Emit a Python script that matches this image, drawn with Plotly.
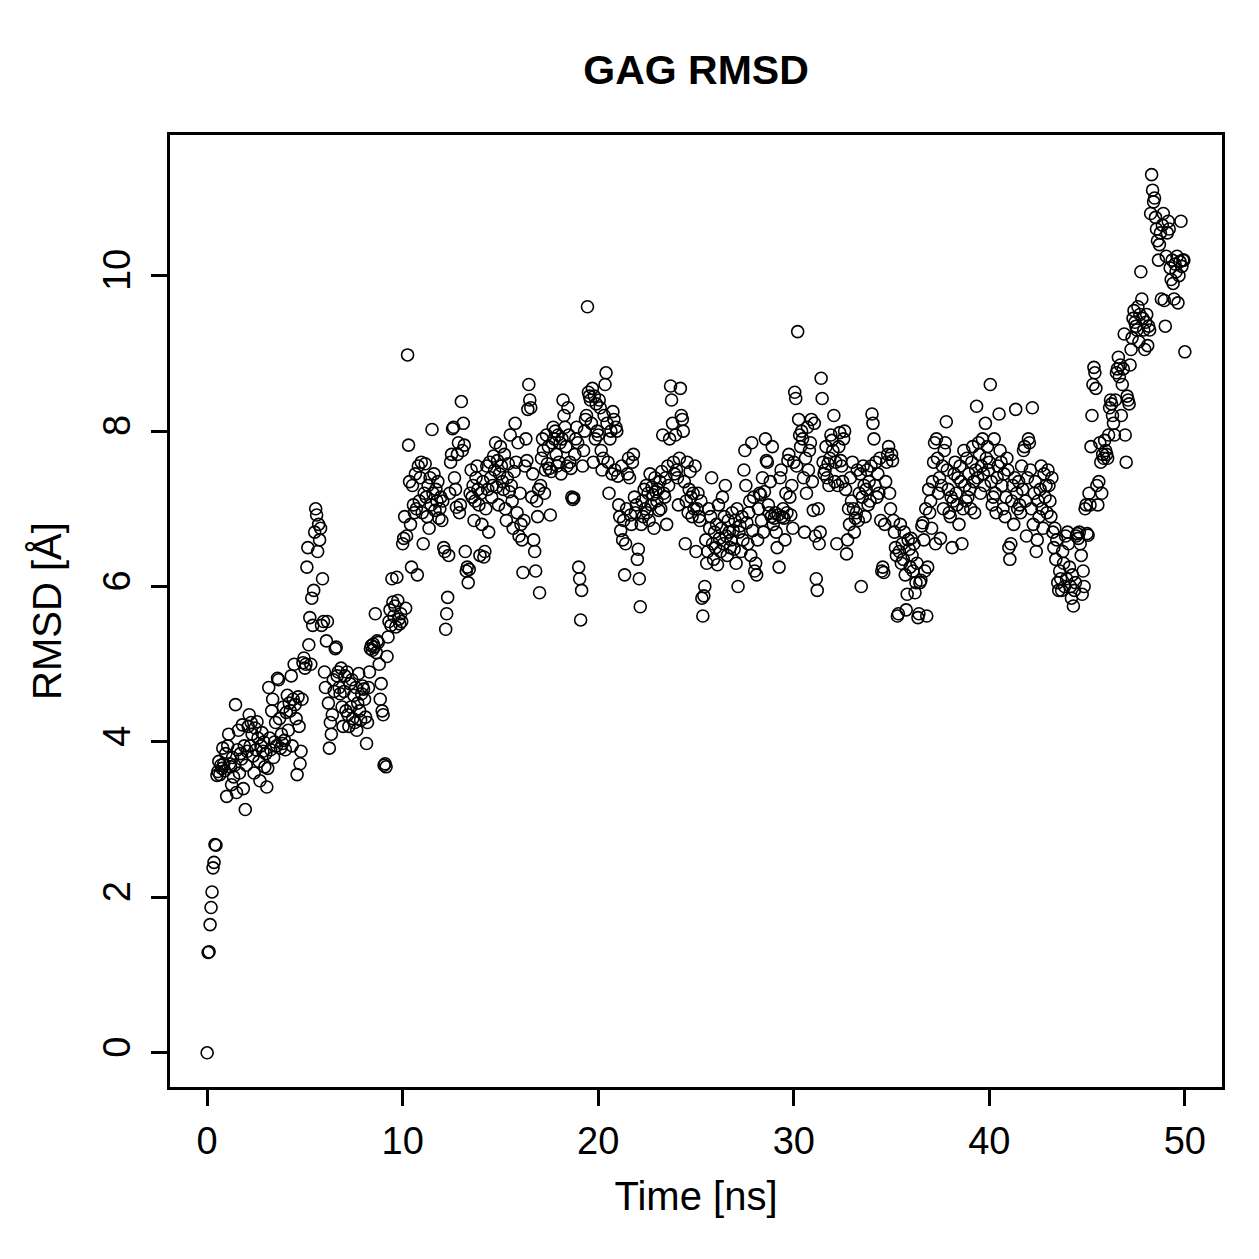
import plotly.graph_objects as go

# RMSD samples, one row per nanosecond (sampled every 0.05 ns)
step_ns = 0.05

seg_00_05 = [
    [0.00, 1.29, 1.30, 1.65, 1.87, 2.07, 2.38, 2.45, 2.68, 2.67, 3.57, 3.62, 3.75, 3.58, 3.70, 3.66, 3.92, 3.72, 3.63, 3.85],
    [3.30, 3.95, 4.10, 3.72, 3.68, 3.45, 3.80, 3.55, 3.70, 4.48, 3.35, 3.90, 4.15, 3.60, 3.85, 3.78, 4.22, 3.40, 3.95, 3.13],
    [3.70, 3.88, 4.20, 4.35, 3.95, 4.25, 4.10, 3.82, 3.60, 4.18, 3.90, 4.26, 4.05, 3.75, 3.50, 3.95, 4.12, 3.88, 4.00, 3.68],
    [3.85, 3.42, 3.66, 4.70, 4.05, 3.90, 4.40, 4.55, 3.80, 4.00, 4.25, 3.95, 4.82, 4.80, 4.30, 3.92, 4.10, 3.98, 4.45, 4.02],
    [3.90, 4.38, 4.60, 4.15, 4.50, 4.40, 4.85, 3.95, 4.55, 5.00, 4.48, 4.30, 3.58, 4.58, 4.20, 3.72, 3.88, 4.55, 5.02, 5.08],
]
seg_05_10 = [
    [4.95, 5.00, 6.25, 6.50, 5.25, 5.60, 5.00, 5.85, 5.50, 5.95, 6.70, 7.00, 6.92, 6.45, 6.80, 6.60, 6.75, 5.50, 6.10, 5.55],
    [4.90, 4.70, 5.30, 5.55, 4.50, 3.92, 4.25, 4.10, 4.35, 4.80, 4.65, 5.20, 5.22, 4.85, 4.90, 4.70, 4.62, 4.95, 4.45, 4.20],
    [4.65, 4.85, 4.40, 4.90, 4.35, 4.20, 4.75, 4.45, 4.80, 4.30, 4.60, 4.25, 4.70, 4.15, 4.50, 4.88, 4.40, 4.28, 4.62, 4.72],
    [4.68, 4.55, 4.32, 3.98, 4.25, 4.70, 4.90, 5.20, 5.24, 5.18, 5.26, 5.22, 5.65, 5.15, 5.30, 5.28, 5.00, 4.55, 4.75, 4.40],
    [4.35, 3.70, 3.72, 3.68, 5.10, 5.35, 5.55, 5.70, 5.50, 6.10, 5.80, 5.62, 5.75, 5.48, 6.12, 5.82, 5.58, 5.52, 5.65, 5.55],
]
seg_10_15 = [
    [6.55, 6.62, 6.90, 5.72, 6.65, 8.98, 7.82, 7.35, 6.80, 6.25, 7.30, 7.05, 6.95, 7.45, 7.00, 6.15, 7.55, 7.10, 7.40, 7.60],
    [6.95, 6.55, 7.20, 7.58, 7.15, 6.90, 7.30, 6.75, 7.40, 7.05, 8.02, 7.20, 7.45, 6.98, 7.25, 7.10, 7.35, 6.88, 7.00, 7.15],
    [6.85, 7.10, 6.50, 6.45, 5.45, 5.65, 5.86, 6.40, 7.20, 7.60, 7.70, 8.03, 8.05, 7.40, 7.25, 7.02, 7.70, 7.85, 6.95, 7.05],
    [8.38, 7.75, 8.10, 7.82, 6.45, 6.20, 6.25, 6.05, 6.22, 7.20, 7.50, 7.15, 7.30, 6.85, 7.10, 7.40, 7.55, 7.25, 7.05, 6.40],
    [7.20, 6.80, 7.35, 6.38, 6.45, 7.00, 7.55, 7.25, 6.70, 7.60, 7.40, 7.15, 7.30, 7.68, 7.50, 7.85, 7.28, 7.62, 7.05, 7.45],
]
seg_15_20 = [
    [7.80, 7.55, 7.35, 7.25, 7.70, 7.00, 6.85, 7.40, 7.58, 7.22, 7.95, 7.30, 7.10, 6.75, 7.48, 8.10, 7.60, 6.95, 7.85, 6.65],
    [7.20, 6.80, 6.60, 6.18, 6.85, 7.55, 7.90, 7.62, 8.28, 8.60, 8.40, 8.30, 7.15, 7.45, 6.60, 6.45, 6.20, 7.10, 6.90, 7.25],
    [5.92, 7.30, 7.65, 7.90, 7.75, 7.20, 7.50, 7.95, 7.58, 7.80, 7.52, 6.92, 7.48, 7.85, 8.05, 7.90, 8.00, 7.70, 7.55, 7.95],
    [7.60, 7.85, 7.45, 7.90, 8.40, 8.20, 8.05, 7.80, 7.55, 8.30, 7.95, 7.60, 7.52, 7.15, 7.12, 7.14, 7.70, 7.90, 8.05, 7.85],
    [6.25, 6.10, 5.57, 5.95, 7.55, 7.75, 8.00, 8.15, 8.20, 9.60, 8.50, 8.45, 8.40, 8.10, 8.55, 7.60, 8.45, 7.90, 8.35, 8.00],
]
seg_20_25 = [
    [7.95, 8.40, 8.30, 7.75, 7.50, 7.65, 8.20, 8.60, 8.75, 8.10, 7.60, 7.20, 7.90, 8.00, 7.45, 8.25, 8.15, 7.50, 8.05, 8.00],
    [7.42, 7.05, 6.90, 6.72, 7.55, 6.60, 6.85, 6.15, 6.55, 7.00, 7.45, 7.65, 7.40, 6.92, 6.80, 7.60, 7.70, 7.15, 6.95, 7.05],
    [6.35, 6.48, 6.10, 5.74, 6.80, 7.10, 6.90, 7.25, 7.00, 7.30, 6.95, 7.20, 6.85, 7.45, 7.05, 7.28, 7.18, 6.75, 7.40, 7.22],
    [7.10, 7.25, 6.98, 7.35, 7.00, 7.48, 7.95, 7.20, 7.15, 7.40, 6.80, 7.55, 7.30, 7.90, 8.58, 8.40, 8.10, 7.60, 7.45, 7.95],
    [7.50, 7.40, 7.05, 7.65, 8.55, 8.20, 8.15, 8.00, 7.35, 6.55, 7.10, 7.60, 6.95, 7.25, 7.48, 7.15, 6.90, 7.20, 7.00, 7.55],
]
seg_25_30 = [
    [6.45, 7.00, 7.20, 6.90, 6.85, 7.10, 5.85, 5.62, 5.88, 6.00, 6.60, 6.30, 6.45, 7.00, 6.75, 6.90, 7.40, 6.55, 6.35, 6.70],
    [6.50, 6.80, 6.28, 7.05, 6.62, 6.45, 6.75, 7.15, 6.55, 6.90, 7.30, 6.65, 6.40, 6.85, 6.70, 6.50, 6.60, 6.95, 6.72, 6.48],
    [6.85, 6.30, 7.00, 6.00, 6.70, 6.78, 6.45, 6.90, 6.60, 7.50, 7.75, 7.30, 6.82, 6.55, 6.95, 7.10, 6.40, 7.85, 6.72, 7.15],
    [6.20, 6.30, 6.15, 6.60, 7.00, 7.20, 7.18, 6.85, 7.40, 6.70, 7.22, 7.90, 7.62, 7.60, 7.05, 6.95, 7.35, 6.90, 7.80, 6.80],
    [6.88, 6.95, 6.70, 6.50, 6.92, 6.25, 7.40, 7.50, 6.90, 7.00, 6.88, 6.60, 7.20, 6.95, 7.62, 7.70, 7.15, 6.92, 7.30, 6.75],
]
seg_30_35 = [
    [7.60, 8.50, 8.42, 7.55, 9.28, 8.15, 7.95, 7.80, 8.00, 7.90, 7.40, 6.70, 7.65, 7.20, 8.05, 7.50, 7.75, 7.85, 8.15, 7.35],
    [6.98, 8.10, 6.65, 6.10, 5.95, 7.00, 6.55, 6.70, 8.68, 8.42, 7.60, 7.45, 7.50, 7.80, 7.40, 7.58, 7.30, 7.65, 7.95, 7.88],
    [7.75, 8.20, 7.35, 7.60, 6.55, 7.30, 7.80, 7.98, 7.62, 7.55, 7.35, 7.90, 8.00, 7.25, 6.42, 6.60, 7.00, 6.80, 7.40, 7.10],
    [7.60, 7.00, 6.70, 6.88, 6.95, 7.50, 6.85, 7.20, 7.45, 6.00, 7.15, 7.55, 7.30, 6.90, 7.25, 7.50, 7.05, 7.35, 7.10, 7.55],
    [8.22, 8.10, 7.90, 7.30, 7.60, 7.15, 7.45, 7.20, 7.65, 6.85, 6.20, 6.25, 6.18, 6.80, 7.35, 7.60, 7.70, 7.80, 7.20, 7.00],
]
seg_35_40 = [
    [7.70, 7.62, 6.85, 6.70, 6.50, 6.40, 5.62, 5.65, 6.45, 6.80, 6.30, 6.55, 6.35, 6.70, 6.15, 5.70, 5.90, 6.60, 6.48, 6.25],
    [6.62, 6.40, 6.20, 6.55, 5.92, 6.05, 6.30, 5.60, 5.65, 6.05, 6.08, 6.78, 6.82, 6.60, 6.20, 7.00, 5.62, 6.25, 7.25, 6.95],
    [7.10, 6.75, 7.35, 7.60, 7.85, 6.55, 7.90, 7.65, 7.20, 7.40, 6.62, 7.30, 7.55, 7.00, 7.75, 7.85, 8.12, 7.50, 7.25, 6.95],
    [6.90, 7.15, 6.50, 7.10, 7.45, 7.60, 7.20, 7.05, 7.40, 6.80, 7.55, 7.35, 6.55, 7.00, 7.75, 7.30, 7.10, 7.65, 7.15, 7.45],
    [7.25, 7.00, 7.60, 7.80, 7.35, 6.95, 7.50, 8.32, 7.40, 7.85, 7.70, 7.20, 7.55, 7.90, 7.45, 7.30, 8.10, 7.65, 7.80, 7.50],
]
seg_40_45 = [
    [7.60, 8.60, 7.35, 7.05, 7.15, 7.90, 7.20, 6.95, 7.40, 7.55, 8.22, 7.75, 7.60, 7.30, 7.00, 7.45, 6.90, 7.15, 7.65, 7.50],
    [6.50, 6.35, 6.55, 7.10, 7.30, 6.80, 7.40, 8.28, 7.20, 7.00, 7.35, 7.05, 6.95, 7.55, 7.25, 7.75, 7.80, 7.10, 6.65, 7.40],
    [7.90, 7.85, 7.50, 7.00, 8.30, 6.80, 7.20, 7.35, 6.45, 6.60, 7.10, 6.90, 7.25, 7.55, 7.00, 6.75, 7.45, 7.15, 7.30, 6.95],
    [7.50, 7.30, 7.10, 6.90, 7.40, 6.70, 6.50, 6.75, 6.35, 6.60, 6.05, 5.95, 6.20, 6.10, 5.95, 6.45, 6.30, 6.00, 6.65, 6.10],
    [6.70, 6.55, 6.25, 6.00, 5.85, 6.15, 5.75, 5.95, 6.05, 6.65, 6.68, 6.62, 6.70, 6.55, 6.40, 5.90, 6.20, 6.00, 7.00, 7.05],
]
seg_45_50 = [
    [6.68, 6.66, 7.20, 7.05, 7.80, 8.20, 8.60, 8.82, 8.75, 8.55, 7.30, 7.05, 7.35, 7.85, 7.60, 7.20, 7.70, 7.65, 7.88, 7.75],
    [7.70, 7.65, 7.95, 8.30, 8.40, 8.35, 8.20, 8.10, 7.95, 8.40, 8.75, 8.80, 8.95, 8.70, 8.85, 8.20, 8.60, 8.80, 9.25, 7.95],
    [7.60, 8.45, 8.40, 8.35, 8.85, 9.05, 9.20, 9.45, 9.55, 9.40, 9.35, 9.30, 9.60, 9.15, 9.50, 10.05, 9.70, 9.45, 9.30, 9.05],
    [9.40, 9.50, 9.10, 9.35, 9.30, 10.80, 11.30, 11.10, 10.95, 11.00, 10.75, 10.60, 10.45, 10.20, 10.40, 10.55, 9.70, 10.65, 10.80, 9.68],
    [9.35, 10.25, 10.55, 10.70, 10.60, 10.10, 9.95, 10.20, 9.90, 9.70, 10.15, 10.05, 10.25, 9.65, 10.00, 10.18, 10.70, 10.12, 10.20, 10.20],
    [9.02],
]

x_ticks = [0, 10, 20, 30, 40, 50]
y_ticks = [0, 2, 4, 6, 8, 10]

segments = [seg_00_05, seg_05_10, seg_10_15, seg_15_20, seg_20_25,
            seg_25_30, seg_30_35, seg_35_40, seg_40_45, seg_45_50]

times, rmsd = [], []
ns = 0
for seg in segments:
    for row in seg:
        for k, v in enumerate(row):
            times.append(round(ns + k * step_ns, 3))
            rmsd.append(v)
        ns += 1

FONT = "Liberation Sans, Arial, Helvetica, sans-serif"

fig = go.Figure(go.Scatter(
    x=times, y=rmsd, mode="markers",
    marker=dict(symbol="circle-open", size=12, color="black", line=dict(width=1.6, color="black")),
    showlegend=False, hoverinfo="x+y",
))

fig.update_layout(
    width=1259, height=1259,
    margin=dict(l=170, r=37, t=135, b=172),
    paper_bgcolor="white", plot_bgcolor="white",
    font=dict(family=FONT, size=40, color="black"),
    title=dict(text="<b>GAG RMSD</b>", x=0.5, xref="paper", xanchor="center",
               y=1 - 70 / 1259, yanchor="middle", yref="container",
               font=dict(family=FONT, size=41, color="black")),
)

fig.update_xaxes(
    range=[-1.9, 51.9], tickvals=x_ticks, ticktext=[str(v) for v in x_ticks],
    showgrid=False, zeroline=False, showline=True, linecolor="black", linewidth=3, mirror=True,
    ticks="outside", ticklen=16, tickwidth=3, tickcolor="black",
    tickfont=dict(family=FONT, size=38), ticklabelstandoff=2,
    title=dict(text="Time [ns]", font=dict(family=FONT, size=40), standoff=22),
)
fig.update_yaxes(
    range=[-0.44, 11.81], tickvals=y_ticks, ticktext=[str(v) for v in y_ticks],
    showgrid=False, zeroline=False, showline=True, linecolor="black", linewidth=3, mirror=True,
    ticks="outside", ticklen=16, tickwidth=3, tickcolor="black",
    tickfont=dict(family=FONT, size=38), tickangle=-90, ticklabelstandoff=6,
    title=dict(text="RMSD [Å]", font=dict(family=FONT, size=40), standoff=22),
)

fig.write_html("out.html")
